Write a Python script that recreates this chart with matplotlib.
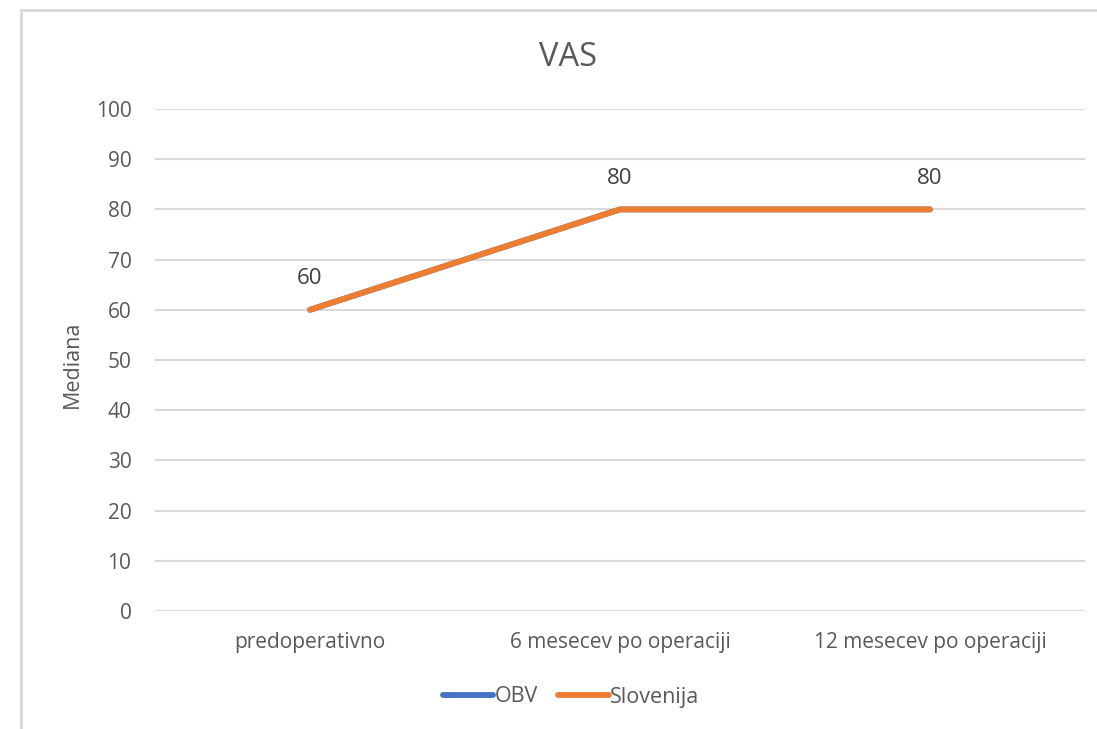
import matplotlib
matplotlib.use("Agg")
import matplotlib.pyplot as plt
from matplotlib.patches import Rectangle
from matplotlib.lines import Line2D

categories = ["predoperativno", "6 mesecev po operaciji", "12 mesecev po operaciji"]
obv = [60, 80, 80]
slovenija = [60, 80, 80]
yticks = [0, 10, 20, 30, 40, 50, 60, 70, 80, 90, 100]

plt.rcParams['font.family'] = ['Open Sans', 'DejaVu Sans']
text_color = '#595959'

W, H = 1097, 729
fig = plt.figure(figsize=(W / 100, H / 100), dpi=100)
fig.patch.set_facecolor('white')

# chart area border
fig.patches.append(Rectangle((21 / W, -0.1), 1.2, 1 - 10 / H + 0.1, transform=fig.transFigure,
                             fill=False, edgecolor='#D9D9D9', linewidth=2.2, zorder=0))

ax = fig.add_axes([155 / W, 1 - 611 / H, (1085 - 155) / W, (611 - 109) / H])
x = list(range(len(categories)))
ax.plot(x, obv, color='#4472C4', linewidth=4.2, solid_capstyle='round', zorder=3)
ax.plot(x, slovenija, color='#ED7D31', linewidth=4.2, solid_capstyle='round', zorder=4)

for xi, v in zip(x, slovenija):
    ax.annotate(f"{v}", (xi, v), xytext=(0, 31), textcoords='offset pixels',
                ha='center', va='center', fontsize=16, color='#404040')

ax.set_xlim(-0.5, len(categories) - 0.5)
ax.set_ylim(0, 100)
ax.set_yticks(yticks)
ax.set_xticks(x)
ax.set_xticklabels(categories)
ax.tick_params(axis='both', length=0, labelsize=15, labelcolor=text_color)
ax.tick_params(axis='y', pad=17)
ax.tick_params(axis='x', pad=15)
ax.grid(axis='y', color='#D9D9D9', linewidth=1.5)
ax.set_axisbelow(True)
for s in ax.spines.values():
    s.set_visible(False)

fig.text(72 / W, 1 - 364 / H, "Mediana", rotation=90, ha='center', va='center',
         fontsize=15.5, color=text_color)
fig.text(568 / W, 1 - 57 / H, "VAS", ha='center', va='center', fontsize=23.5, color=text_color)

handles = [Line2D([], [], color='#4472C4', linewidth=4.2, solid_capstyle='round'),
           Line2D([], [], color='#ED7D31', linewidth=4.2, solid_capstyle='round')]
fig.legend(handles, ["OBV", "Slovenija"], loc='center', bbox_to_anchor=(571 / W, 1 - 697 / H),
           ncol=2, frameon=False, fontsize=15.5, labelcolor=text_color, handlelength=2.35,
           handletextpad=0.05, columnspacing=0.95)

fig.savefig("out.png", dpi=100, facecolor='white')
